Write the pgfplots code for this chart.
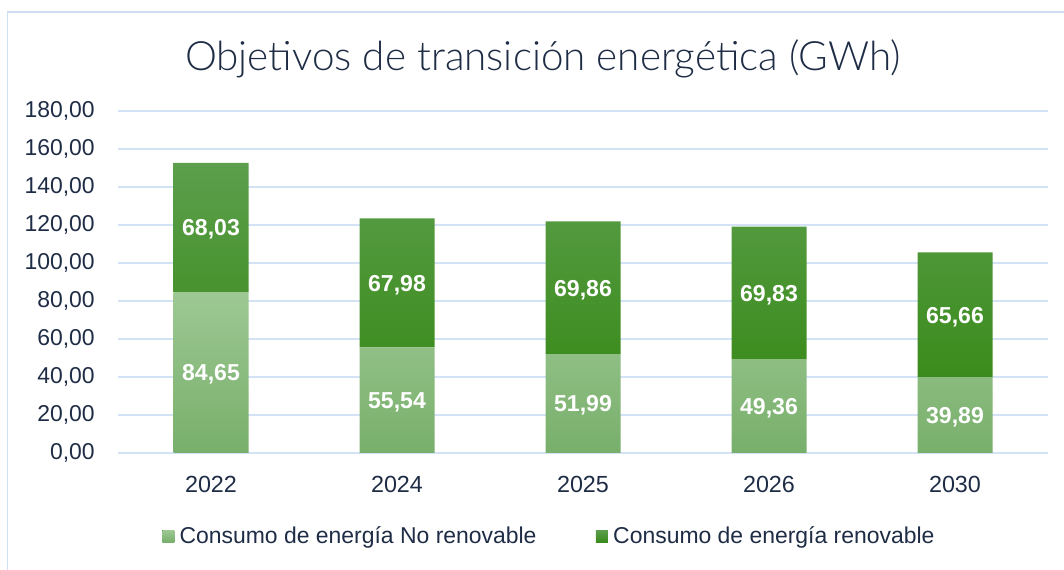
\documentclass[border=0pt]{standalone}
\usepackage{fontspec}
\setmainfont{Liberation Sans}
\newfontfamily\titlefont{Lato Light}
\usepackage{pgfplots}
\pgfplotsset{compat=1.18}
\definecolor{txt}{HTML}{1E2C45}
\definecolor{gridc}{HTML}{D3E2F4}
\definecolor{framec}{HTML}{CFE0F3}
\definecolor{lightT}{HTML}{9DC893}
\definecolor{lightB}{HTML}{78AF6B}
\definecolor{darkT}{HTML}{5C9F4C}
\definecolor{darkB}{HTML}{3A8B1B}
\pgfplotstableread{
x nr r
0 84.65 68.03
1 55.54 67.98
2 51.99 69.86
3 49.36 69.83
4 39.89 65.66
}\datatable
\begin{document}
\begin{tikzpicture}
\path[use as bounding box] (0,0) rectangle (798pt,427.5pt);
\draw[color=framec, line width=1.1pt] (5.6pt,-20pt) rectangle (820pt,418.5pt);
\node[font=\titlefont\fontsize{30.3}{36}\selectfont, text=txt] at (407.25pt,383.5pt) {Objetivos de transición energética (GWh)};
\begin{axis}[
 at={(88.5pt,87.75pt)}, anchor=south west, scale only axis,
 width=697.5pt, height=256.5pt,
 xmin=-0.5, xmax=4.5, ymin=0, ymax=180,
 ytick={0,20,...,180},
 xtick=data, xticklabels={2022,2024,2025,2026,2030},
 /pgf/number format/assume math mode=true,
 /pgf/number format/fixed, /pgf/number format/fixed zerofill,
 /pgf/number format/precision=2, /pgf/number format/use comma,
 yticklabel style={inner sep=0pt, xshift=-17.25pt, text=txt, font=\fontsize{17.2}{20}\selectfont},
 xticklabel style={inner sep=0pt, yshift=-17pt, text=txt, font=\fontsize{17.5}{20}\selectfont},
 major tick length=0pt,
 axis line style={draw=none},
 ymajorgrids, grid style={color=gridc, line width=1.1pt},
 ybar stacked, bar width=56.25pt,
 point meta=rawy,
 nodes near coords,
 every node near coord/.append style={anchor=center, yshift=-1.5pt, text=white, font=\bfseries\fontsize{17.3}{20}\selectfont},
 legend style={at={(0.0473,-0.2427)}, anchor=west, draw=none, fill=none, inner sep=0pt,
   font=\fontsize{17.2}{20}\selectfont, text=txt,
   /tikz/every even column/.append style={column sep=42.5pt}},
 legend columns=2, legend cell align=left,
 legend image code/.code={\fill[#1] (0pt,-4.5pt) rectangle (9pt,4.5pt);},
]
\addplot[draw=none, top color=lightT, bottom color=lightB] table[x=x, y=nr] {\datatable};
\addplot[draw=none, top color=darkT, bottom color=darkB] table[x=x, y=r] {\datatable};
\legend{\hspace{2pt}Consumo de energía No renovable, \hspace{2pt}Consumo de energía renovable}
\end{axis}
\end{tikzpicture}
\end{document}
